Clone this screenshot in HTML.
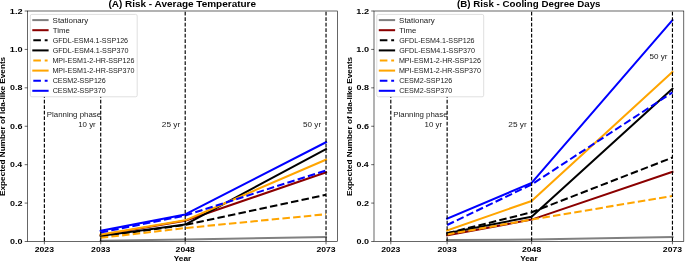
<!DOCTYPE html>
<html><head><meta charset="utf-8"><style>
html,body{margin:0;padding:0;background:#fff;width:685px;height:262px;overflow:hidden;position:relative;}
svg{display:block;position:absolute;left:0;top:0;font-family:"Liberation Sans",sans-serif;}
svg.t{filter:grayscale(1);}
text{font-family:"Liberation Sans",sans-serif;}
</style></head><body>
<svg width="685" height="262" viewBox="0 0 685 262">
<rect width="685" height="262" fill="#fff"/>
<polyline points="100.71,240.73 185.20,239.39 326.03,237.08" fill="none" stroke="#808080" stroke-width="2.03" stroke-linecap="square" stroke-linejoin="round"/>
<polyline points="100.71,235.16 185.20,220.75 326.03,172.35" fill="none" stroke="#8b0000" stroke-width="2.03" stroke-linecap="square" stroke-linejoin="round"/>
<polyline points="100.71,236.51 185.20,224.98 326.03,194.82" fill="none" stroke="#000000" stroke-width="2.03" stroke-dasharray="7.5 3.25" stroke-linecap="butt" stroke-linejoin="round"/>
<polyline points="100.71,235.93 185.20,224.60 326.03,149.11" fill="none" stroke="#000000" stroke-width="2.03" stroke-linecap="square" stroke-linejoin="round"/>
<polyline points="100.71,237.85 185.20,228.05 326.03,214.22" fill="none" stroke="#ffa500" stroke-width="2.03" stroke-dasharray="7.5 3.25" stroke-linecap="butt" stroke-linejoin="round"/>
<polyline points="100.71,234.59 185.20,220.37 326.03,159.67" fill="none" stroke="#ffa500" stroke-width="2.03" stroke-linecap="square" stroke-linejoin="round"/>
<polyline points="100.71,232.47 185.20,215.57 326.03,170.43" fill="none" stroke="#0000ff" stroke-width="2.03" stroke-dasharray="7.5 3.25" stroke-linecap="butt" stroke-linejoin="round"/>
<polyline points="100.71,230.74 185.20,214.42 326.03,142.19" fill="none" stroke="#0000ff" stroke-width="2.03" stroke-linecap="square" stroke-linejoin="round"/>
<line x1="44.38" y1="241.5" x2="44.38" y2="40" stroke="#000" stroke-width="1.15" stroke-dasharray="3.84 1.66" stroke-dashoffset="5.0"/>
<line x1="100.71" y1="241.5" x2="100.71" y2="40" stroke="#000" stroke-width="1.15" stroke-dasharray="3.84 1.66" stroke-dashoffset="5.0"/>
<line x1="185.20" y1="241.5" x2="185.20" y2="11.0" stroke="#000" stroke-width="1.15" stroke-dasharray="3.84 1.66" stroke-dashoffset="5.0"/>
<line x1="326.03" y1="241.5" x2="326.03" y2="11.0" stroke="#000" stroke-width="1.15" stroke-dasharray="3.84 1.66" stroke-dashoffset="5.0"/>
<rect x="27.5" y="11.0" width="310.05" height="230.5" fill="none" stroke="#000" stroke-width="0.6"/>
<line x1="24.70" y1="241.50" x2="27.5" y2="241.50" stroke="#000" stroke-width="0.6"/>
<line x1="24.70" y1="203.08" x2="27.5" y2="203.08" stroke="#000" stroke-width="0.6"/>
<line x1="24.70" y1="164.67" x2="27.5" y2="164.67" stroke="#000" stroke-width="0.6"/>
<line x1="24.70" y1="126.25" x2="27.5" y2="126.25" stroke="#000" stroke-width="0.6"/>
<line x1="24.70" y1="87.83" x2="27.5" y2="87.83" stroke="#000" stroke-width="0.6"/>
<line x1="24.70" y1="49.42" x2="27.5" y2="49.42" stroke="#000" stroke-width="0.6"/>
<line x1="24.70" y1="11.00" x2="27.5" y2="11.00" stroke="#000" stroke-width="0.6"/>
<line x1="44.38" y1="241.5" x2="44.38" y2="244.30" stroke="#000" stroke-width="0.6"/>
<line x1="100.71" y1="241.5" x2="100.71" y2="244.30" stroke="#000" stroke-width="0.6"/>
<line x1="185.20" y1="241.5" x2="185.20" y2="244.30" stroke="#000" stroke-width="0.6"/>
<line x1="326.03" y1="241.5" x2="326.03" y2="244.30" stroke="#000" stroke-width="0.6"/>
<rect x="30.30" y="14.4" width="106.9" height="82.4" rx="1.6" ry="1.6" fill="#fff" stroke="#d9d9d9" stroke-width="0.85"/>
<line x1="33.30" y1="20.10" x2="47.60" y2="20.10" stroke="#808080" stroke-width="2.03" stroke-linecap="square"/>
<line x1="33.30" y1="30.20" x2="47.60" y2="30.20" stroke="#8b0000" stroke-width="2.03" stroke-linecap="square"/>
<line x1="33.30" y1="40.30" x2="47.60" y2="40.30" stroke="#000000" stroke-width="2.03" stroke-dasharray="7.6 3.8"/>
<line x1="33.30" y1="50.40" x2="47.60" y2="50.40" stroke="#000000" stroke-width="2.03" stroke-linecap="square"/>
<line x1="33.30" y1="60.50" x2="47.60" y2="60.50" stroke="#ffa500" stroke-width="2.03" stroke-dasharray="7.6 3.8"/>
<line x1="33.30" y1="70.60" x2="47.60" y2="70.60" stroke="#ffa500" stroke-width="2.03" stroke-linecap="square"/>
<line x1="33.30" y1="80.70" x2="47.60" y2="80.70" stroke="#0000ff" stroke-width="2.03" stroke-dasharray="7.6 3.8"/>
<line x1="33.30" y1="90.80" x2="47.60" y2="90.80" stroke="#0000ff" stroke-width="2.03" stroke-linecap="square"/>
<polyline points="447.13,239.96 531.62,239.58 672.45,237.08" fill="none" stroke="#808080" stroke-width="2.03" stroke-linecap="square" stroke-linejoin="round"/>
<polyline points="447.13,235.35 531.62,219.60 672.45,171.77" fill="none" stroke="#8b0000" stroke-width="2.03" stroke-linecap="square" stroke-linejoin="round"/>
<polyline points="447.13,233.24 531.62,212.30 672.45,157.56" fill="none" stroke="#000000" stroke-width="2.03" stroke-dasharray="7.5 3.25" stroke-linecap="butt" stroke-linejoin="round"/>
<polyline points="447.13,233.24 531.62,216.72 672.45,88.79" fill="none" stroke="#000000" stroke-width="2.03" stroke-linecap="square" stroke-linejoin="round"/>
<polyline points="447.13,234.39 531.62,219.60 672.45,195.98" fill="none" stroke="#ffa500" stroke-width="2.03" stroke-dasharray="7.5 3.25" stroke-linecap="butt" stroke-linejoin="round"/>
<polyline points="447.13,230.36 531.62,200.97 672.45,71.89" fill="none" stroke="#ffa500" stroke-width="2.03" stroke-linecap="square" stroke-linejoin="round"/>
<polyline points="447.13,224.98 531.62,184.45 672.45,92.44" fill="none" stroke="#0000ff" stroke-width="2.03" stroke-dasharray="7.5 3.25" stroke-linecap="butt" stroke-linejoin="round"/>
<polyline points="447.13,218.64 531.62,182.91 672.45,20.22" fill="none" stroke="#0000ff" stroke-width="2.03" stroke-linecap="square" stroke-linejoin="round"/>
<line x1="390.80" y1="241.5" x2="390.80" y2="40" stroke="#000" stroke-width="1.15" stroke-dasharray="3.84 1.66" stroke-dashoffset="5.0"/>
<line x1="447.13" y1="241.5" x2="447.13" y2="40" stroke="#000" stroke-width="1.15" stroke-dasharray="3.84 1.66" stroke-dashoffset="5.0"/>
<line x1="531.62" y1="241.5" x2="531.62" y2="11.0" stroke="#000" stroke-width="1.15" stroke-dasharray="3.84 1.66" stroke-dashoffset="5.0"/>
<line x1="672.45" y1="241.5" x2="672.45" y2="11.0" stroke="#000" stroke-width="1.15" stroke-dasharray="3.84 1.66" stroke-dashoffset="5.0"/>
<rect x="374.0" y="11.0" width="309.79999999999995" height="230.5" fill="none" stroke="#000" stroke-width="0.6"/>
<line x1="371.20" y1="241.50" x2="374.0" y2="241.50" stroke="#000" stroke-width="0.6"/>
<line x1="371.20" y1="203.08" x2="374.0" y2="203.08" stroke="#000" stroke-width="0.6"/>
<line x1="371.20" y1="164.67" x2="374.0" y2="164.67" stroke="#000" stroke-width="0.6"/>
<line x1="371.20" y1="126.25" x2="374.0" y2="126.25" stroke="#000" stroke-width="0.6"/>
<line x1="371.20" y1="87.83" x2="374.0" y2="87.83" stroke="#000" stroke-width="0.6"/>
<line x1="371.20" y1="49.42" x2="374.0" y2="49.42" stroke="#000" stroke-width="0.6"/>
<line x1="371.20" y1="11.00" x2="374.0" y2="11.00" stroke="#000" stroke-width="0.6"/>
<line x1="390.80" y1="241.5" x2="390.80" y2="244.30" stroke="#000" stroke-width="0.6"/>
<line x1="447.13" y1="241.5" x2="447.13" y2="244.30" stroke="#000" stroke-width="0.6"/>
<line x1="531.62" y1="241.5" x2="531.62" y2="244.30" stroke="#000" stroke-width="0.6"/>
<line x1="672.45" y1="241.5" x2="672.45" y2="244.30" stroke="#000" stroke-width="0.6"/>
<rect x="376.80" y="14.4" width="106.9" height="82.4" rx="1.6" ry="1.6" fill="#fff" stroke="#d9d9d9" stroke-width="0.85"/>
<line x1="379.80" y1="20.10" x2="394.10" y2="20.10" stroke="#808080" stroke-width="2.03" stroke-linecap="square"/>
<line x1="379.80" y1="30.20" x2="394.10" y2="30.20" stroke="#8b0000" stroke-width="2.03" stroke-linecap="square"/>
<line x1="379.80" y1="40.30" x2="394.10" y2="40.30" stroke="#000000" stroke-width="2.03" stroke-dasharray="7.6 3.8"/>
<line x1="379.80" y1="50.40" x2="394.10" y2="50.40" stroke="#000000" stroke-width="2.03" stroke-linecap="square"/>
<line x1="379.80" y1="60.50" x2="394.10" y2="60.50" stroke="#ffa500" stroke-width="2.03" stroke-dasharray="7.6 3.8"/>
<line x1="379.80" y1="70.60" x2="394.10" y2="70.60" stroke="#ffa500" stroke-width="2.03" stroke-linecap="square"/>
<line x1="379.80" y1="80.70" x2="394.10" y2="80.70" stroke="#0000ff" stroke-width="2.03" stroke-dasharray="7.6 3.8"/>
<line x1="379.80" y1="90.80" x2="394.10" y2="90.80" stroke="#0000ff" stroke-width="2.03" stroke-linecap="square"/>
</svg>
<svg class="t" width="685" height="262" viewBox="0 0 685 262">
<text x="10.04" y="244.10" font-size="7.35" font-weight="bold" fill="#000" textLength="12.53" lengthAdjust="spacingAndGlyphs">0.0</text>
<text x="10.04" y="205.68" font-size="7.35" font-weight="bold" fill="#000" textLength="12.52" lengthAdjust="spacingAndGlyphs">0.2</text>
<text x="10.05" y="167.27" font-size="7.35" font-weight="bold" fill="#000" textLength="12.19" lengthAdjust="spacingAndGlyphs">0.4</text>
<text x="10.04" y="128.85" font-size="7.35" font-weight="bold" fill="#000" textLength="12.48" lengthAdjust="spacingAndGlyphs">0.6</text>
<text x="10.05" y="90.43" font-size="7.35" font-weight="bold" fill="#000" textLength="12.43" lengthAdjust="spacingAndGlyphs">0.8</text>
<text x="9.82" y="52.02" font-size="7.35" font-weight="bold" fill="#000" textLength="12.75" lengthAdjust="spacingAndGlyphs">1.0</text>
<text x="9.82" y="13.60" font-size="7.35" font-weight="bold" fill="#000" textLength="12.74" lengthAdjust="spacingAndGlyphs">1.2</text>
<text x="34.78" y="251.90" font-size="7.35" font-weight="bold" fill="#000" textLength="19.21" lengthAdjust="spacingAndGlyphs">2023</text>
<text x="91.11" y="251.90" font-size="7.35" font-weight="bold" fill="#000" textLength="19.21" lengthAdjust="spacingAndGlyphs">2033</text>
<text x="175.61" y="251.90" font-size="7.35" font-weight="bold" fill="#000" textLength="19.16" lengthAdjust="spacingAndGlyphs">2048</text>
<text x="316.43" y="251.90" font-size="7.35" font-weight="bold" fill="#000" textLength="19.21" lengthAdjust="spacingAndGlyphs">2073</text>
<text x="108.41" y="6.90" font-size="8.5" font-weight="bold" fill="#000" textLength="147.63" lengthAdjust="spacingAndGlyphs">(A) Risk - Average Temperature</text>
<text x="173.79" y="261.00" font-size="7.35" font-weight="bold" fill="#000" textLength="17.46" lengthAdjust="spacingAndGlyphs">Year</text>
<text transform="translate(5.20,195.90) rotate(-90)" x="0" y="0" font-size="7.35" font-weight="bold" fill="#000" textLength="139.08" lengthAdjust="spacingAndGlyphs">Expected Number of Ida-like Events</text>
<text x="52.64" y="22.55" font-size="7.35" font-weight="normal" fill="#1a1a1a" textLength="35.68" lengthAdjust="spacingAndGlyphs">Stationary</text>
<text x="52.83" y="32.65" font-size="7.35" font-weight="normal" fill="#1a1a1a" textLength="17.01" lengthAdjust="spacingAndGlyphs">Time</text>
<text x="52.64" y="42.75" font-size="7.35" font-weight="normal" fill="#1a1a1a" textLength="75.47" lengthAdjust="spacingAndGlyphs">GFDL-ESM4.1-SSP126</text>
<text x="52.64" y="52.85" font-size="7.35" font-weight="normal" fill="#1a1a1a" textLength="75.84" lengthAdjust="spacingAndGlyphs">GFDL-ESM4.1-SSP370</text>
<text x="52.41" y="62.95" font-size="7.35" font-weight="normal" fill="#1a1a1a" textLength="82.10" lengthAdjust="spacingAndGlyphs">MPI-ESM1-2-HR-SSP126</text>
<text x="52.41" y="73.05" font-size="7.35" font-weight="normal" fill="#1a1a1a" textLength="82.06" lengthAdjust="spacingAndGlyphs">MPI-ESM1-2-HR-SSP370</text>
<text x="52.64" y="83.15" font-size="7.35" font-weight="normal" fill="#1a1a1a" textLength="53.18" lengthAdjust="spacingAndGlyphs">CESM2-SSP126</text>
<text x="52.64" y="93.25" font-size="7.35" font-weight="normal" fill="#1a1a1a" textLength="53.14" lengthAdjust="spacingAndGlyphs">CESM2-SSP370</text>
<text x="46.83" y="117.10" font-size="7.35" font-weight="normal" fill="#1a1a1a" textLength="54.30" lengthAdjust="spacingAndGlyphs">Planning phase</text>
<text x="78.21" y="126.50" font-size="7.35" font-weight="normal" fill="#1a1a1a" textLength="17.53" lengthAdjust="spacingAndGlyphs">10 yr</text>
<text x="161.89" y="126.60" font-size="7.35" font-weight="normal" fill="#1a1a1a" textLength="18.35" lengthAdjust="spacingAndGlyphs">25 yr</text>
<text x="303.11" y="126.80" font-size="7.35" font-weight="normal" fill="#1a1a1a" textLength="17.96" lengthAdjust="spacingAndGlyphs">50 yr</text>
<text x="356.54" y="244.10" font-size="7.35" font-weight="bold" fill="#000" textLength="12.53" lengthAdjust="spacingAndGlyphs">0.0</text>
<text x="356.54" y="205.68" font-size="7.35" font-weight="bold" fill="#000" textLength="12.52" lengthAdjust="spacingAndGlyphs">0.2</text>
<text x="356.55" y="167.27" font-size="7.35" font-weight="bold" fill="#000" textLength="12.19" lengthAdjust="spacingAndGlyphs">0.4</text>
<text x="356.54" y="128.85" font-size="7.35" font-weight="bold" fill="#000" textLength="12.48" lengthAdjust="spacingAndGlyphs">0.6</text>
<text x="356.55" y="90.43" font-size="7.35" font-weight="bold" fill="#000" textLength="12.43" lengthAdjust="spacingAndGlyphs">0.8</text>
<text x="356.32" y="52.02" font-size="7.35" font-weight="bold" fill="#000" textLength="12.75" lengthAdjust="spacingAndGlyphs">1.0</text>
<text x="356.32" y="13.60" font-size="7.35" font-weight="bold" fill="#000" textLength="12.74" lengthAdjust="spacingAndGlyphs">1.2</text>
<text x="381.20" y="251.90" font-size="7.35" font-weight="bold" fill="#000" textLength="19.21" lengthAdjust="spacingAndGlyphs">2023</text>
<text x="437.53" y="251.90" font-size="7.35" font-weight="bold" fill="#000" textLength="19.21" lengthAdjust="spacingAndGlyphs">2033</text>
<text x="522.03" y="251.90" font-size="7.35" font-weight="bold" fill="#000" textLength="19.16" lengthAdjust="spacingAndGlyphs">2048</text>
<text x="662.85" y="251.90" font-size="7.35" font-weight="bold" fill="#000" textLength="19.21" lengthAdjust="spacingAndGlyphs">2073</text>
<text x="457.01" y="6.90" font-size="8.5" font-weight="bold" fill="#000" textLength="143.48" lengthAdjust="spacingAndGlyphs">(B) Risk - Cooling Degree Days</text>
<text x="520.16" y="261.00" font-size="7.35" font-weight="bold" fill="#000" textLength="17.46" lengthAdjust="spacingAndGlyphs">Year</text>
<text transform="translate(351.70,195.90) rotate(-90)" x="0" y="0" font-size="7.35" font-weight="bold" fill="#000" textLength="139.08" lengthAdjust="spacingAndGlyphs">Expected Number of Ida-like Events</text>
<text x="399.14" y="22.55" font-size="7.35" font-weight="normal" fill="#1a1a1a" textLength="35.68" lengthAdjust="spacingAndGlyphs">Stationary</text>
<text x="399.33" y="32.65" font-size="7.35" font-weight="normal" fill="#1a1a1a" textLength="17.01" lengthAdjust="spacingAndGlyphs">Time</text>
<text x="399.14" y="42.75" font-size="7.35" font-weight="normal" fill="#1a1a1a" textLength="75.47" lengthAdjust="spacingAndGlyphs">GFDL-ESM4.1-SSP126</text>
<text x="399.14" y="52.85" font-size="7.35" font-weight="normal" fill="#1a1a1a" textLength="75.84" lengthAdjust="spacingAndGlyphs">GFDL-ESM4.1-SSP370</text>
<text x="398.91" y="62.95" font-size="7.35" font-weight="normal" fill="#1a1a1a" textLength="82.10" lengthAdjust="spacingAndGlyphs">MPI-ESM1-2-HR-SSP126</text>
<text x="398.91" y="73.05" font-size="7.35" font-weight="normal" fill="#1a1a1a" textLength="82.06" lengthAdjust="spacingAndGlyphs">MPI-ESM1-2-HR-SSP370</text>
<text x="399.14" y="83.15" font-size="7.35" font-weight="normal" fill="#1a1a1a" textLength="53.18" lengthAdjust="spacingAndGlyphs">CESM2-SSP126</text>
<text x="399.14" y="93.25" font-size="7.35" font-weight="normal" fill="#1a1a1a" textLength="53.14" lengthAdjust="spacingAndGlyphs">CESM2-SSP370</text>
<text x="393.25" y="117.10" font-size="7.35" font-weight="normal" fill="#1a1a1a" textLength="54.30" lengthAdjust="spacingAndGlyphs">Planning phase</text>
<text x="424.63" y="126.50" font-size="7.35" font-weight="normal" fill="#1a1a1a" textLength="17.53" lengthAdjust="spacingAndGlyphs">10 yr</text>
<text x="508.31" y="126.60" font-size="7.35" font-weight="normal" fill="#1a1a1a" textLength="18.35" lengthAdjust="spacingAndGlyphs">25 yr</text>
<text x="649.53" y="59.30" font-size="7.35" font-weight="normal" fill="#1a1a1a" textLength="17.96" lengthAdjust="spacingAndGlyphs">50 yr</text>
</svg>
</body></html>
